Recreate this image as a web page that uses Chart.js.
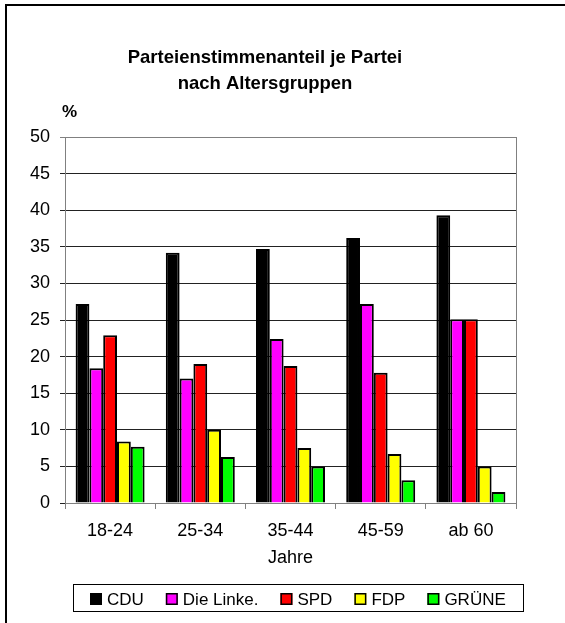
<!DOCTYPE html>
<html>
<head>
<meta charset="utf-8">
<script src="https://cdn.jsdelivr.net/npm/chart.js@4.4.1/dist/chart.umd.min.js"></script>
<style>
html, body { margin: 0; padding: 0; background: #fff; }
</style>
</head>
<body>
<canvas id="votesChart" width="565" height="623"></canvas>
<script>
const categories = ['18-24', '25-34', '35-44', '45-59', 'ab 60'];
const parties = ['CDU', 'Die Linke.', 'SPD', 'FDP', 'GRÜNE'];
const cdu = [27.2, 34.2, 34.7, 36.2, 39.3];
const linke = [18.4, 17.0, 22.4, 27.2, 25.1];
const spd = [22.9, 19.0, 18.7, 17.8, 25.1];
const fdp = [8.4, 10.0, 7.5, 6.7, 5.0];
const gruene = [7.7, 6.3, 5.0, 3.1, 1.5];
const partyColors = ['#000000', '#ff00ff', '#ff0000', '#ffff00', '#00ff00'];
const titleLines = ['Parteienstimmenanteil je Partei', 'nach Altersgruppen'];
const yMax = 50;
const yStep = 5;

const FONT = '"Liberation Sans", Arial, Helvetica, sans-serif';

// frame, title, "%" label and the boxed legend
const decor = {
    id: 'decor',
    beforeDraw(chart) {
        const c = chart.ctx;
        c.save();
        c.fillStyle = '#fff';
        c.fillRect(0, 0, chart.width, chart.height);
        c.strokeStyle = '#000';
        c.lineWidth = 2;
        c.beginPath();
        c.moveTo(6, chart.height);
        c.lineTo(6, 5);
        c.lineTo(chart.width, 5);
        c.stroke();
        c.restore();
    },
    afterDraw(chart) {
        const c = chart.ctx;
        const area = chart.chartArea;
        c.save();

        // right border of plot
        c.strokeStyle = '#808080';
        c.lineWidth = 1;
        c.beginPath();
        c.moveTo(Math.round(area.right) + 0.5, area.top);
        c.lineTo(Math.round(area.right) + 0.5, area.bottom);
        c.stroke();

        c.fillStyle = '#000';
        c.textAlign = 'center';
        c.textBaseline = 'alphabetic';
        c.font = 'bold 18.5px ' + FONT;
        c.fillText(titleLines[0], 265, 63);
        c.fillText(titleLines[1], 265, 89);

        c.textAlign = 'left';
        c.font = 'bold 17px ' + FONT;
        c.fillText('%', 62, 117);

        // legend
        c.font = '17px ' + FONT;
        const box = 12, gapText = 5, gapItem = 22;
        const items = chart.data.datasets.map(ds => ({
            label: ds.label, color: ds.backgroundColor, w: c.measureText(ds.label).width
        }));
        let total = 0;
        items.forEach((it, i) => { total += box + gapText + it.w + (i ? gapItem : 0); });
        const lx = 73, ly = 584, lw = 450, lh = 27;
        c.strokeStyle = '#000';
        c.lineWidth = 1;
        c.strokeRect(lx + 0.5, ly + 0.5, lw, lh);
        let x = Math.round(lx + (lw - total) / 2);
        items.forEach(it => {
            c.fillStyle = it.color;
            c.fillRect(x, 593, box, box);
            c.strokeStyle = '#000';
            c.lineWidth = 1.5;
            c.strokeRect(x + 0.75, 593.75, box - 1.5, box - 1.5);
            c.fillStyle = '#000';
            c.fillText(it.label, x + box + gapText, 605);
            x += box + gapText + it.w + gapItem;
        });
        c.restore();
    }
};

const seriesValues = [cdu, linke, spd, fdp, gruene];
const datasets = parties.map((p, i) => ({
    label: p,
    data: seriesValues[i],
    backgroundColor: partyColors[i],
    borderColor: '#000',
    borderWidth: 2,
    categoryPercentage: 0.765,
    barPercentage: 1.0
}));

const ctx = document.getElementById('votesChart').getContext('2d');
const votesChart = new Chart(ctx, {
    type: 'bar',
    data: { labels: categories, datasets: datasets },
    plugins: [decor],
    options: {
        responsive: false,
        animation: false,
        devicePixelRatio: 1,
        layout: { padding: { left: 0, top: 137, right: 49, bottom: 50 } },
        plugins: {
            legend: { display: false },
            title: { display: false },
            tooltip: { enabled: false }
        },
        scales: {
            x: {
                afterFit(scale) { scale.height = 70; },
                grid: {
                    offset: true,
                    drawOnChartArea: false,
                    drawTicks: true,
                    tickLength: 6,
                    color: '#808080'
                },
                border: { color: '#808080' },
                ticks: {
                    color: '#000',
                    padding: 11,
                    font: { family: FONT, size: 18 }
                },
                title: {
                    display: true,
                    text: 'Jahre',
                    color: '#000',
                    padding: { top: 0, bottom: 4 },
                    font: { family: FONT, size: 18 }
                }
            },
            y: {
                min: 0,
                max: yMax,
                afterFit(scale) { scale.width = 65; },
                ticks: {
                    stepSize: yStep,
                    color: '#000',
                    padding: 10,
                    font: { family: FONT, size: 18 }
                },
                grid: {
                    tickLength: 5,
                    color: c => (c.tick && c.tick.value === yMax) ? '#808080' : '#222'
                },
                border: { color: '#808080' }
            }
        }
    }
});
</script>
</body>
</html>
